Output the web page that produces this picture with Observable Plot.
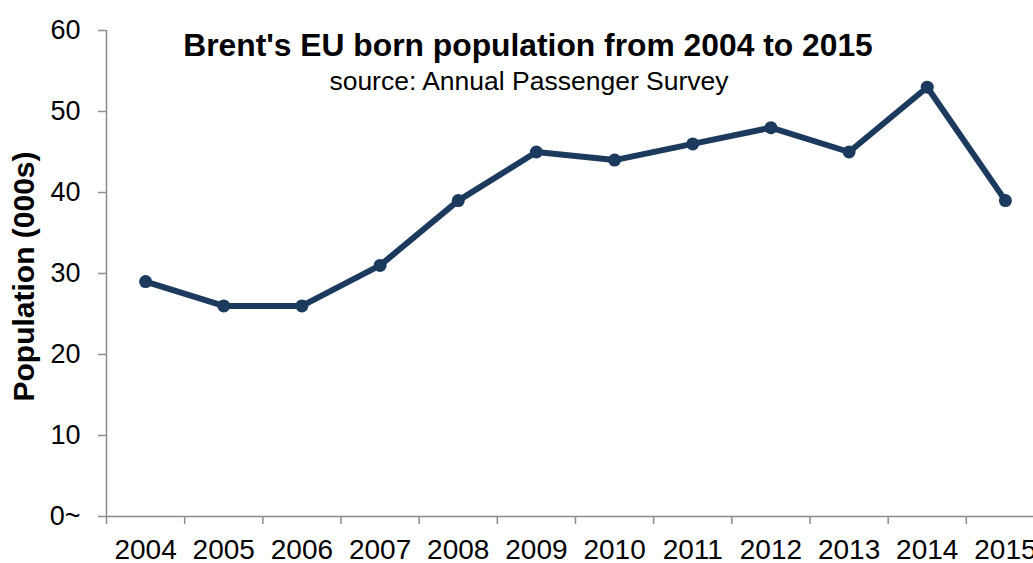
<!DOCTYPE html>
<html>
<head>
<meta charset="utf-8">
<script src="https://cdn.jsdelivr.net/npm/d3@7"></script>
<script src="https://cdn.jsdelivr.net/npm/@observablehq/plot@0.6"></script>
<style>
  html, body { margin: 0; padding: 0; background: #fff; overflow: hidden; }
  #wrap { position: relative; width: 1033px; height: 563px; overflow: hidden; font-family: "Liberation Sans", Arial, sans-serif; }
  #chart svg { max-width: none !important; }
  #title { position: absolute; left: 0; width: 1056px; top: 26px; text-align: center; font-weight: bold; font-size: 31.8px; color: #000; white-space: nowrap; line-height: 38px; }
  #subtitle { position: absolute; left: 0; width: 1058px; top: 64px; text-align: center; font-size: 26.5px; color: #000; white-space: nowrap; line-height: 34px; }
</style>
</head>
<body>
<div id="wrap">
  <div id="chart"></div>
  <div id="title">Brent's EU born population from 2004 to 2015</div>
  <div id="subtitle">source: Annual Passenger Survey</div>
</div>
<script>
const years = [2004, 2005, 2006, 2007, 2008, 2009, 2010, 2011, 2012, 2013, 2014, 2015];
const population = [29, 26, 26, 31, 39, 45, 44, 46, 48, 45, 53, 39];
const yTicks = [0, 10, 20, 30, 40, 50, 60];
const yLabel = "Population (000s)";

const data = years.map((y, i) => ({year: y, value: population[i]}));
const boundaries = d3.range(years.length + 1).map(i => years[0] - 0.5 + i);

const axisColor = "#8c8c8c";
const lineColor = "#1b3a5e";

const chart = Plot.plot({
  width: 1044,
  height: 563,
  marginLeft: 106,
  marginRight: 0,
  marginTop: 30,
  marginBottom: 47,
  style: {fontFamily: "'Liberation Sans', Arial, sans-serif", fontSize: "27px", color: "#000", background: "#fff", maxWidth: "none"},
  x: {domain: [years[0] - 0.5, years[years.length - 1] + 0.5]},
  y: {domain: [0, 60]},
  marks: [
    Plot.ruleX([years[0] - 0.5], {stroke: axisColor, strokeWidth: 1.5}),
    Plot.ruleY([0], {stroke: axisColor, strokeWidth: 1.5}),
    Plot.axisY({ticks: yTicks, tickSize: 8, tickPadding: 18, stroke: axisColor, strokeWidth: 1.5, fill: "#000", fontSize: 27,
      tickFormat: d => d === 0 ? "0~" : String(d), label: null}),
    Plot.axisX({ticks: boundaries, tickSize: 8, tickFormat: () => "", stroke: axisColor, strokeWidth: 1.5, label: null}),
    Plot.axisX({ticks: years, tickSize: 0, tickPadding: 23, tickFormat: d => String(d), fill: "#000", fontSize: 28, label: null}),
    Plot.line(data, {x: "year", y: "value", stroke: lineColor, strokeWidth: 6, strokeLinejoin: "round"}),
    Plot.dot(data, {x: "year", y: "value", fill: lineColor, r: 6.5, stroke: "none"}),
    Plot.text([yLabel], {frameAnchor: "left", dx: -82, dy: 3, rotate: -90, text: d => d, fontWeight: "bold", fontSize: 30, fill: "#000", textAnchor: "middle", lineAnchor: "middle"})
  ]
});
chart.style.maxWidth = "none";
document.getElementById("chart").appendChild(chart);
</script>
</body>
</html>
